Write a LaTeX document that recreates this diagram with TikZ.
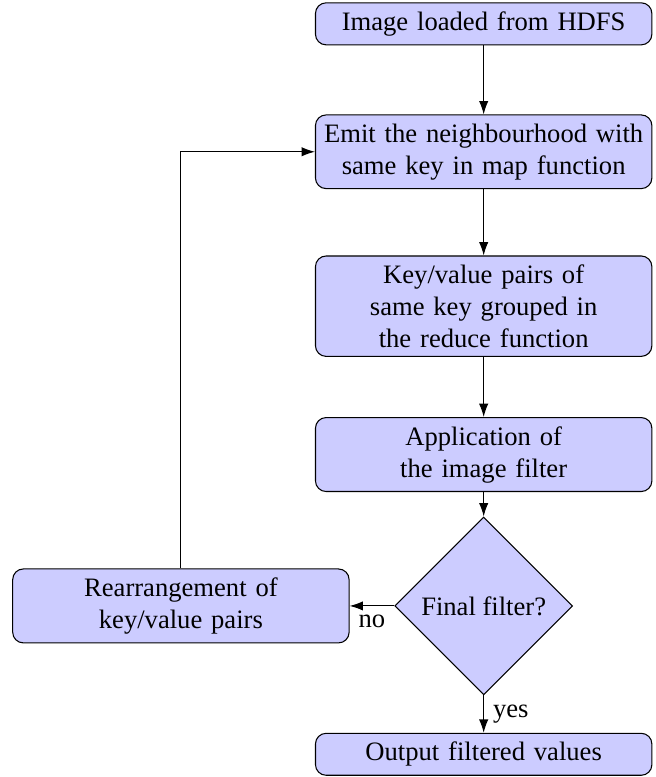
\documentclass[tikz,border=0pt]{standalone}
\usepackage{fontspec}
\setmainfont{Liberation Serif}
\usetikzlibrary{arrows.meta,shapes.geometric}

\begin{document}
\begin{tikzpicture}[
        font=\normalsize,
        box/.style={
            draw, rounded corners, fill=blue!20, align=center,
            text width=4.36cm, minimum width=4.44cm,
            minimum height=0.53cm, inner xsep=1.2pt, inner ysep=3.3pt
        },
        decision/.style={
            draw, diamond, fill=blue!20, align=center,
            minimum width=2.35cm, minimum height=2.35cm, inner sep=0pt
        },
        arrow/.style={-{Latex[length=5pt,width=3.5pt]}}
        ]

        % --- Spacing ---
        \def\dy{2}
        \def\dx{4}

        \useasboundingbox (-6.39,-2.26) rectangle (2.27,8.005);

        % --- Main column ---
        \node[box] (load) at (0, 3*\dy+1.69)
        {Image loaded from HDFS};

        \node[box] (emit) at (0, 3*\dy)
        {Emit the neighbourhood with\\same key in map function};

        \node[box] (group) at (0, 2*\dy-0.04)
        {Key/value pairs of\\same key grouped in\\the reduce function};

        \node[box] (apply) at (0, \dy)
        {Application of\\the image filter};

        % --- Decision ---
        \node[decision] (final) at (0, 0)
        {Final filter?};

        \node[box] (output) at (0, -\dy+0.04)
        {Output filtered values};

        % --- Loop back ---
        \node[box] (rearrange) at (-\dx, 0)
        {Rearrangement of\\key/value pairs};

        % --- Arrows ---
        \draw[arrow] (load) -- (emit);
        \draw[arrow] (emit) -- (group);
        \draw[arrow] (group) -- (apply);
        \draw[arrow] (apply) -- (final);
        \draw[arrow] (final) -- node[right] {yes} (output);
        \draw[arrow] (final) -- node[below] {no} (rearrange);
        \draw[arrow] (rearrange) |- (emit);

    \end{tikzpicture}
\end{document}
